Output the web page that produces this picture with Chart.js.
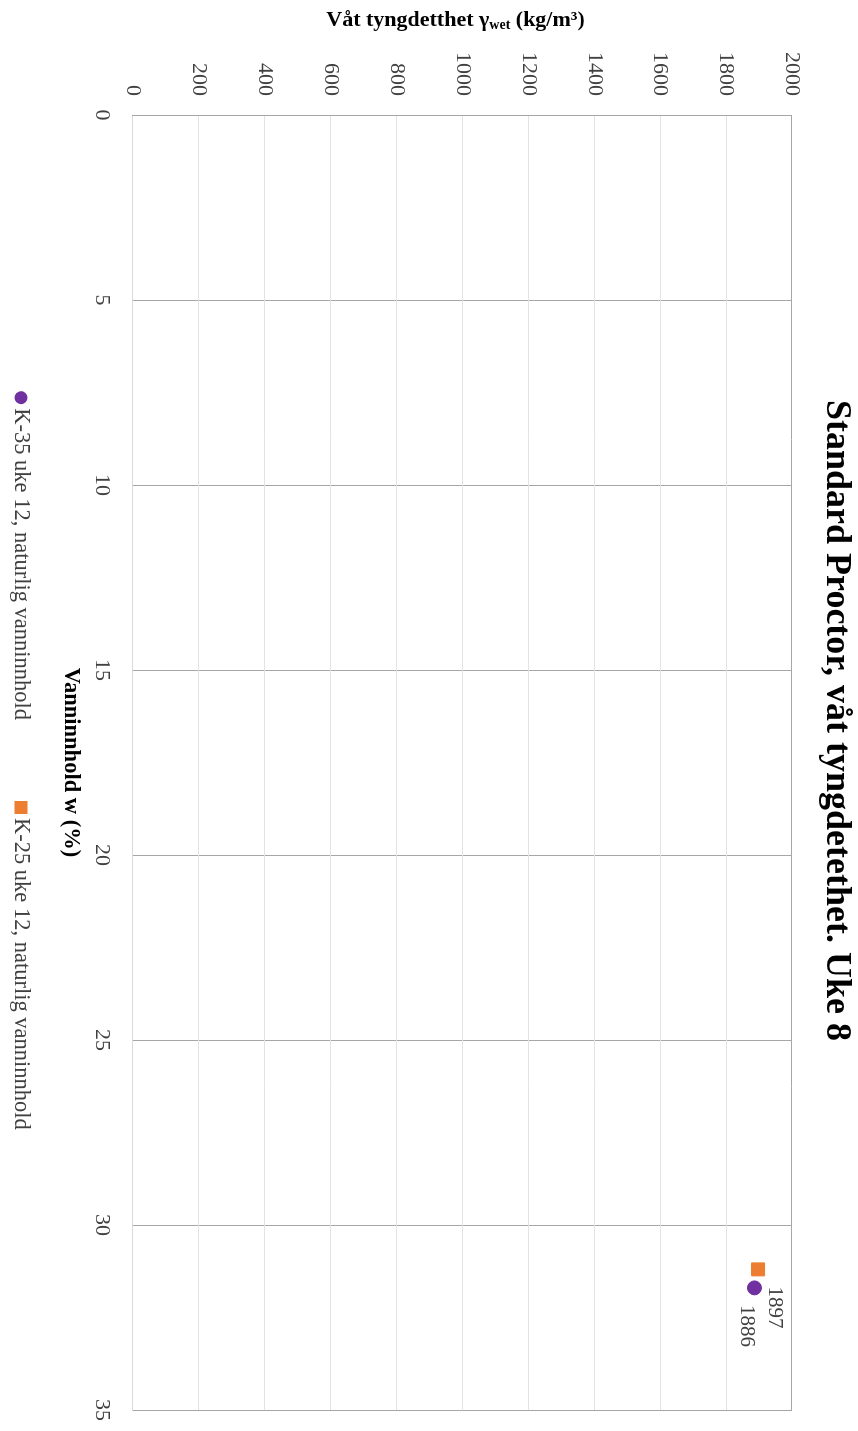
<!DOCTYPE html>
<html><head><meta charset="utf-8">
<script src="https://cdn.jsdelivr.net/npm/chart.js@4"></script>
<style>
html,body{margin:0;padding:0;background:#fff;}
body{width:858px;height:1431px;overflow:hidden;position:relative;}
#wrap{position:absolute;left:0;top:0;width:1431px;height:858px;transform-origin:0 0;transform:translate(858px,0) rotate(90deg);}
</style></head><body>
<div id="wrap"><canvas id="c" width="1431" height="858"></canvas></div>
<script>
const chartTitle = 'Standard Proctor, våt tyngdetethet. Uke 8';
const xAxisTitle = 'Vanninnhold w (%)';
const yAxisTitleParts = ['Våt tyngdetthet γ', 'wet', ' (kg/m³)'];
const seriesNames = ['K-35 uke 12, naturlig vanninnhold', 'K-25 uke 12, naturlig vanninnhold'];
const k35Water = [31.7];
const k35Density = [1886];
const k25Water = [31.2];
const k25Density = [1897];
const xTicks = [0, 5, 10, 15, 20, 25, 30, 35];
const yTicks = [0, 200, 400, 600, 800, 1000, 1200, 1400, 1600, 1800, 2000];

const FONT = '"Liberation Serif", "DejaVu Serif", serif';

function toPoints(xs, ys) { return xs.map((x, i) => ({ x: x, y: ys[i] })); }

const extras = {
  id: 'extras',
  afterDatasetsDraw(chart) {
    const ctx = chart.ctx;
    chart.data.datasets.forEach((ds, i) => {
      const meta = chart.getDatasetMeta(i);
      meta.data.forEach((pt, j) => {
        ctx.save();
        ctx.font = '21px ' + FONT;
        ctx.fillStyle = '#404040';
        ctx.textAlign = 'left';
        ctx.textBaseline = 'middle';
        ctx.fillText(String(ds.data[j].y), pt.x + ds.labelDx, pt.y + ds.labelDy);
        ctx.restore();
      });
    });
  },
  afterDraw(chart) {
    const ctx = chart.ctx;
    const area = chart.chartArea;
    // chart title
    ctx.save();
    ctx.font = 'bold 36px ' + FONT;
    ctx.fillStyle = '#000';
    ctx.textAlign = 'center';
    ctx.textBaseline = 'middle';
    ctx.fillText(chartTitle, chart.width / 2 + 5, 22);
    ctx.restore();

    // y axis title with subscript
    ctx.save();
    const cy = (area.top + area.bottom) / 2 + 7;
    ctx.translate(20, cy);
    ctx.rotate(-Math.PI / 2);
    const big = 'bold 22px ' + FONT, small = 'bold 14px ' + FONT;
    ctx.font = big; const w0 = ctx.measureText(yAxisTitleParts[0]).width;
    const w2 = ctx.measureText(yAxisTitleParts[2]).width;
    ctx.font = small; const w1 = ctx.measureText(yAxisTitleParts[1]).width;
    let x = -(w0 + w1 + w2) / 2;
    ctx.fillStyle = '#000';
    ctx.textBaseline = 'middle';
    ctx.textAlign = 'left';
    ctx.font = big; ctx.fillText(yAxisTitleParts[0], x, 0); x += w0;
    ctx.font = small; ctx.fillText(yAxisTitleParts[1], x, 5); x += w1;
    ctx.font = big; ctx.fillText(yAxisTitleParts[2], x, 0);
    ctx.restore();

    // legend
    ctx.save();
    ctx.font = '22.5px ' + FONT;
    const gap = 81, mark = 13, mgap = 4;
    const items = chart.data.datasets.map(ds => ({ ds, w: ctx.measureText(ds.label).width }));
    const total = items.reduce((s, it) => s + mark + mgap + it.w, 0) + gap * (items.length - 1);
    let lx = (area.left + area.right) / 2 - total / 2 - 2;
    const ly = 837;
    items.forEach(it => {
      ctx.fillStyle = it.ds.backgroundColor;
      if (it.ds.pointStyle === 'rect') {
        ctx.fillRect(lx, ly - mark / 2, mark, mark);
      } else {
        ctx.beginPath(); ctx.arc(lx + mark / 2, ly, mark / 2, 0, Math.PI * 2); ctx.fill();
      }
      lx += mark + mgap;
      ctx.fillStyle = '#404040';
      ctx.textAlign = 'left'; ctx.textBaseline = 'middle';
      ctx.fillText(it.ds.label, lx, ly);
      lx += it.w + gap;
    });
    ctx.restore();
  }
};

new Chart(document.getElementById('c'), {
  type: 'scatter',
  data: {
    datasets: [
      { label: seriesNames[0], data: toPoints(k35Water, k35Density), backgroundColor: '#7030A0', borderColor: '#7030A0',
        pointStyle: 'circle', pointRadius: 7, pointHoverRadius: 7, labelDx: 17, labelDy: 8 },
      { label: seriesNames[1], data: toPoints(k25Water, k25Density), backgroundColor: '#ED7D31', borderColor: '#ED7D31',
        pointStyle: 'rect', pointRadius: 9.2, pointHoverRadius: 9.2, labelDx: 17, labelDy: -16 }
    ]
  },
  options: {
    responsive: false,
    animation: false,
    events: [],
    layout: { padding: { top: 66, left: 0, right: 21, bottom: 52 } },
    plugins: {
      legend: { display: false },
      tooltip: { enabled: false },
      title: { display: false }
    },
    scales: {
      x: {
        type: 'linear', min: xTicks[0], max: xTicks[xTicks.length - 1],
        afterFit(s) { s.height = 81; s.paddingLeft = 0; s.paddingRight = 0; },
        ticks: { stepSize: xTicks[1] - xTicks[0], color: '#404040', padding: 18, maxRotation: 0,
          font: { family: FONT, size: 22 }, callback: v => String(v) },
        grid: { color: '#a6a6a6', drawTicks: false, lineWidth: 1 },
        border: { display: true, color: '#d9d9d9' },
        title: { display: true, text: xAxisTitle, color: '#000', font: { family: FONT, size: 22.5, weight: 'bold' },
          padding: { top: 4, bottom: 5 } }
      },
      y: {
        type: 'linear', min: yTicks[0], max: yTicks[yTicks.length - 1],
        afterFit(s) { s.width = 115; s.paddingTop = 0; s.paddingBottom = 0; },
        ticks: { stepSize: yTicks[1] - yTicks[0], color: '#404040', padding: 19,
          font: { family: FONT, size: 22 }, callback: v => String(v) },
        grid: { color: ctx => (ctx.tick && ctx.tick.value === yTicks[yTicks.length - 1]) ? '#a6a6a6' : '#e3e3e3', drawTicks: false },
        border: { display: true, color: '#a6a6a6' }
      }
    }
  },
  plugins: [extras]
});
</script>
</body></html>
